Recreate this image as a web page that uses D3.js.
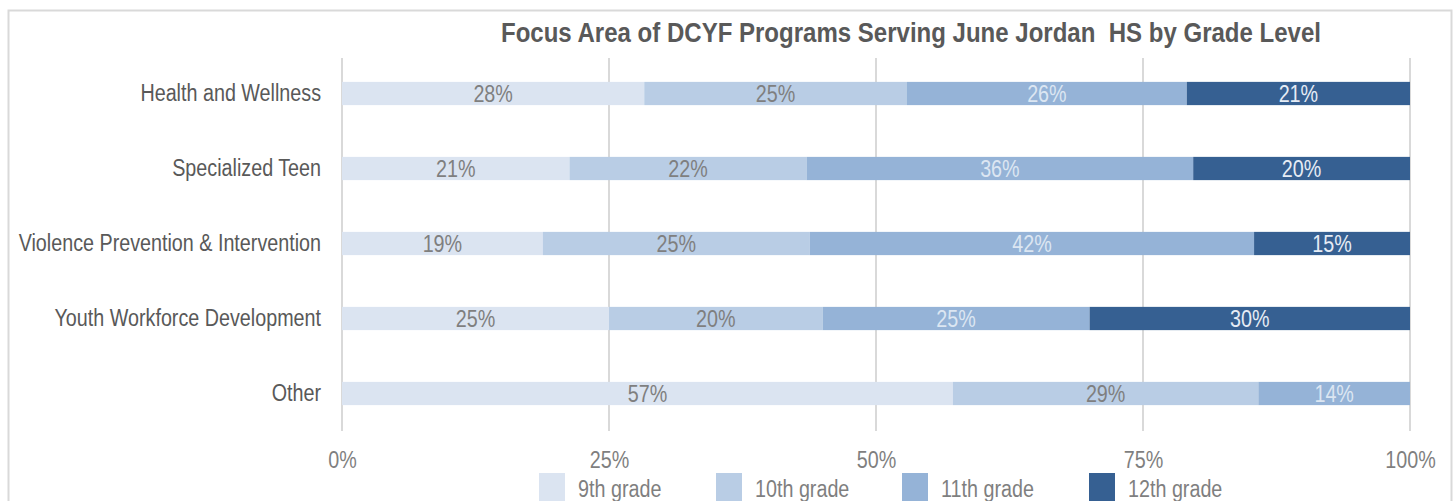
<!DOCTYPE html>
<html>
<head>
<meta charset="utf-8">
<script src="https://cdn.jsdelivr.net/npm/d3@7"></script>
<style>
  body { margin: 0; background: #fff; }
  svg { display: block; font-family: "Liberation Sans", Arial, sans-serif; }
</style>
</head>
<body>
<svg id="chart"></svg>
<script>
// focus areas, top to bottom
const categories = ['Health and Wellness', 'Specialized Teen', 'Violence Prevention & Intervention', 'Youth Workforce Development', 'Other'];
const grades = ['9th grade', '10th grade', '11th grade', '12th grade'];
// percent of programs per grade
const grade9  = [28.3, 21.3, 18.8, 25.0, 57.2];
const grade10 = [24.6, 22.2, 25.0, 20.0, 28.6];
const grade11 = [26.2, 36.2, 41.6, 25.0, 14.2];
const grade12 = [20.9, 20.3, 14.6, 30.0, 0];
const ticks = [0, 25, 50, 75, 100];

const colors = ['#dbe4f1', '#b9cde5', '#95b3d7', '#366092'];
const labelColors = ['#7f7f7f', '#7f7f7f', '#dce6f2', '#e6ecf5'];

const W = 1456, H = 501;
const NARROW = 0.84; // no Arial Narrow here, so squeeze Liberation Sans

const svg = d3.select('#chart').attr('width', W).attr('height', H);

// squeeze text horizontally around its own anchor point
function narrow(sel, s) {
  sel.each(function() {
    const t = d3.select(this);
    const tx = +t.attr('x') || 0, ty = +t.attr('y') || 0;
    t.attr('x', 0).attr('y', 0)
      .attr('transform', `translate(${tx},${ty}) scale(${s},1)`);
  });
}

// outer frame
svg.append('rect')
  .attr('x', 8.5).attr('y', 10.5)
  .attr('width', 1443).attr('height', 510)
  .attr('fill', 'none').attr('stroke', '#d9d9d9').attr('stroke-width', 2);

const x = d3.scaleLinear().domain([0, 100]).range([342, 1410]);
const y = d3.scaleBand().domain(categories).range([56, 431]).paddingInner(0.69).paddingOuter(0.345);

// gridlines
svg.append('g').selectAll('line').data(ticks).join('line')
  .attr('x1', d => x(d)).attr('x2', d => x(d))
  .attr('y1', 58).attr('y2', 431)
  .attr('stroke', '#d9d9d9').attr('stroke-width', 2);

// x axis labels
const xaxis = d3.axisBottom(x).tickValues(ticks).tickFormat(d => d + '%').tickSize(0).tickPadding(0);
const xg = svg.append('g').attr('transform', 'translate(0, 468)').call(xaxis);
xg.select('.domain').remove();
xg.selectAll('text').attr('dy', null).attr('y', 0)
  .attr('font-size', 23.5).attr('fill', '#7f7f7f').attr('font-family', null)
  .call(narrow, NARROW);

// category labels
const yaxis = d3.axisLeft(y).tickSize(0).tickPadding(21);
const yg = svg.append('g').attr('transform', 'translate(342, 0)').call(yaxis);
yg.select('.domain').remove();
yg.selectAll('text').attr('font-size', 23.5).attr('fill', '#595959').attr('font-family', null)
  .attr('dy', '0.33em')
  .call(narrow, NARROW);

// stack the series
const table = categories.map((c, i) => ({
  cat: c, '9th grade': grade9[i], '10th grade': grade10[i], '11th grade': grade11[i], '12th grade': grade12[i]
}));
const series = d3.stack().keys(grades)(table);

const layers = svg.append('g').selectAll('g').data(series).join('g')
  .attr('fill', (d, i) => colors[i]);

layers.selectAll('rect').data(d => d).join('rect')
  .attr('x', d => x(d[0]))
  .attr('y', d => y(d.data.cat))
  .attr('width', d => x(d[1]) - x(d[0]))
  .attr('height', y.bandwidth());

layers.each(function(s, i) {
  d3.select(this).selectAll('text').data(s.filter(d => d[1] - d[0] > 0)).join('text')
    .attr('x', d => (x(d[0]) + x(d[1])) / 2)
    .attr('y', d => y(d.data.cat) + y.bandwidth() / 2)
    .attr('dy', '0.37em')
    .attr('text-anchor', 'middle')
    .attr('font-size', 23.5)
    .attr('fill', labelColors[i])
    .text(d => Math.round(d[1] - d[0]) + '%')
    .call(narrow, NARROW);
});

// title
svg.append('text')
  .attr('x', 911).attr('y', 42)
  .attr('text-anchor', 'middle')
  .attr('font-size', 27).attr('font-weight', 'bold')
  .attr('fill', '#595959')
  .style('white-space', 'pre')
  .text('Focus Area of DCYF Programs Serving June Jordan  HS by Grade Level')
  .call(narrow, 0.89);

// legend
const legendX = [539, 716, 902, 1089];
const legend = svg.append('g').selectAll('g').data(grades).join('g')
  .attr('transform', (d, i) => `translate(${legendX[i]}, 473)`);
legend.append('rect').attr('width', 26).attr('height', 30).attr('fill', (d, i) => colors[i]);
legend.append('text').attr('x', 39).attr('y', 24)
  .attr('font-size', 23.5).attr('fill', '#7f7f7f')
  .text(d => d)
  .call(narrow, NARROW);
</script>
</body>
</html>
